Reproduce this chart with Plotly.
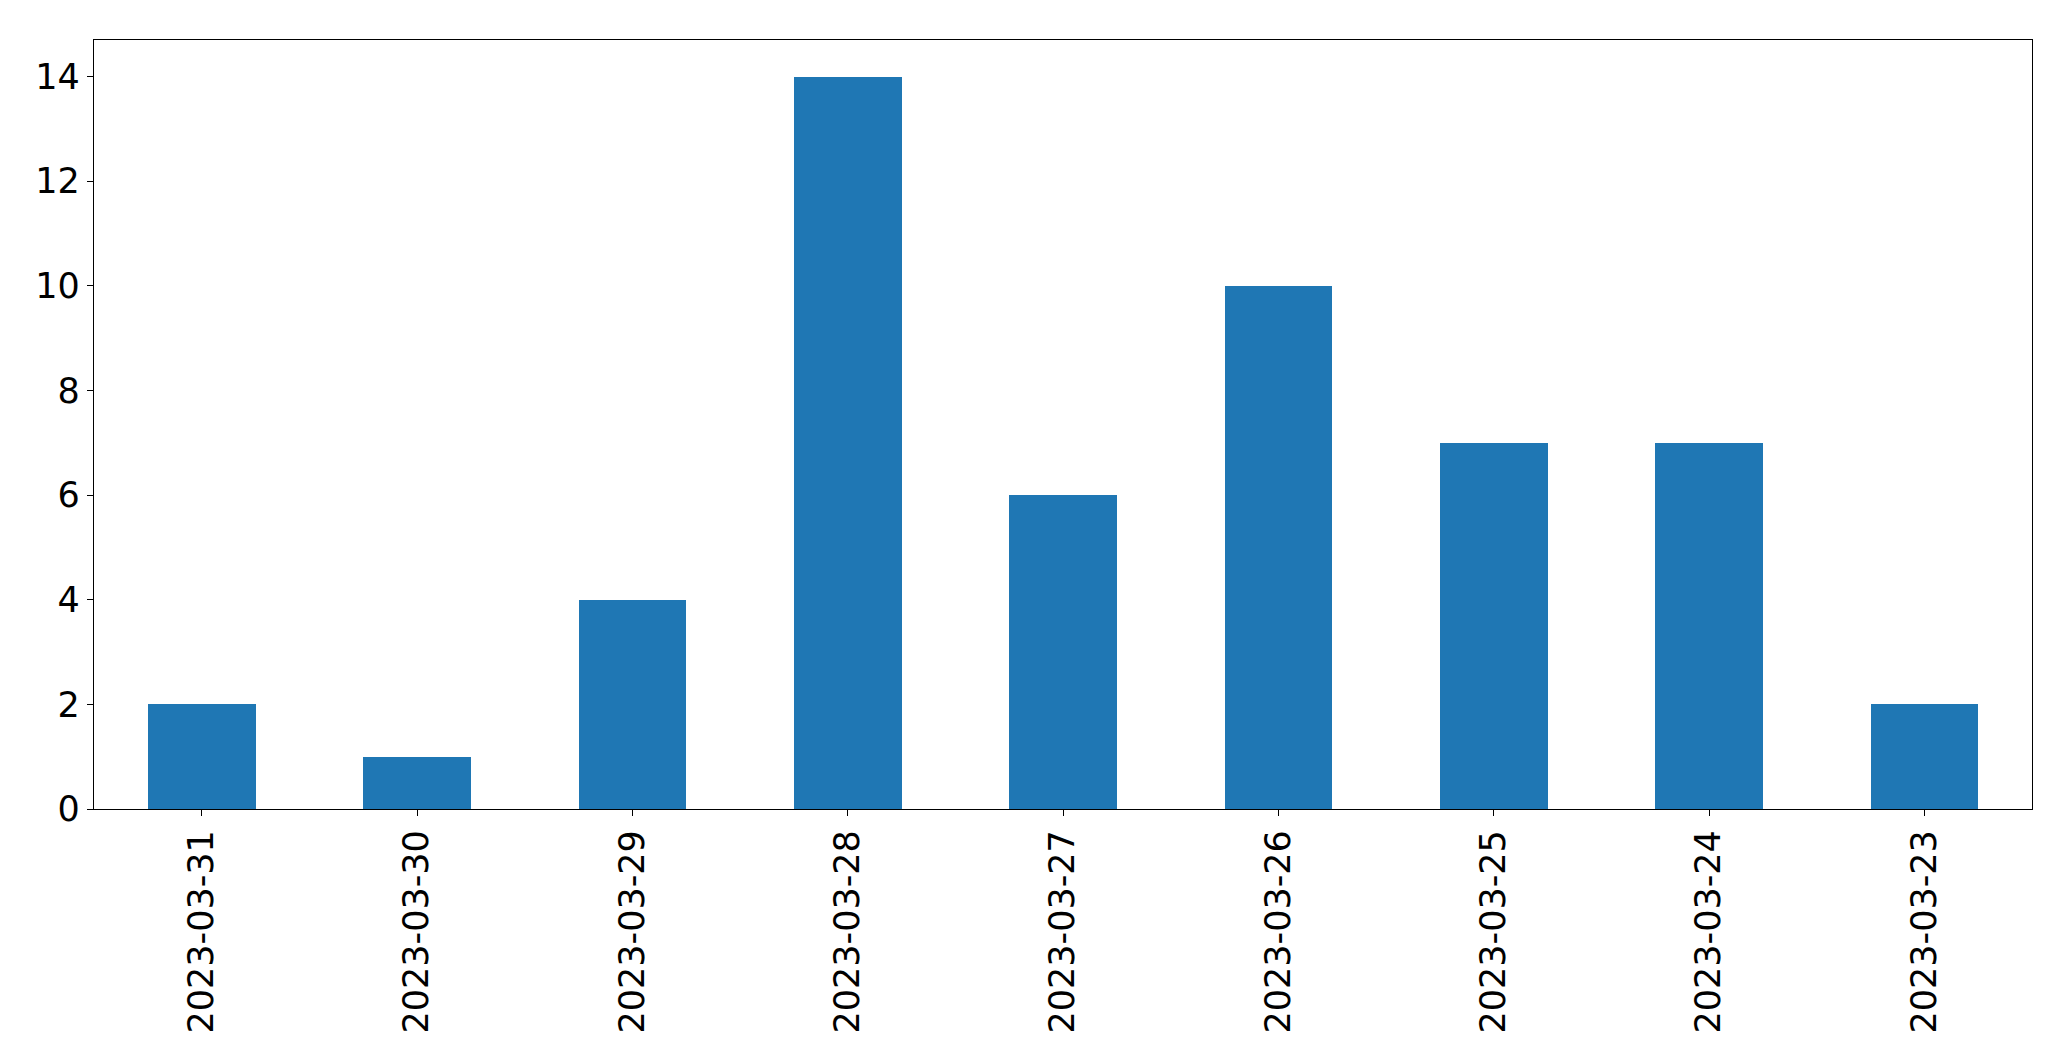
import plotly.graph_objects as go

dates = ["2023-03-31", "2023-03-30", "2023-03-29", "2023-03-28", "2023-03-27",
         "2023-03-26", "2023-03-25", "2023-03-24", "2023-03-23"]
counts = [2, 1, 4, 14, 6, 10, 7, 7, 2]
y_ticks = [0, 2, 4, 6, 8, 10, 12, 14]

fig = go.Figure(go.Bar(x=dates, y=counts, width=0.5, marker=dict(color="#1f77b4", line=dict(width=0))))

axis_common = dict(showline=True, mirror=True, linecolor="black", linewidth=1.3,
                   ticks="outside", ticklen=6, tickwidth=1.3, tickcolor="black",
                   showgrid=False, zeroline=False,
                   tickfont=dict(family="DejaVu Sans", size=35, color="black"))

# page body has an 8px default margin, so the figure is sized to fit the window
fig.update_layout(
    width=2063, height=1053,
    margin=dict(l=86, r=39, t=32, b=252),
    paper_bgcolor="white", plot_bgcolor="white",
    showlegend=False,
    bargap=0,
    xaxis=dict(type="category", range=[-0.5, 8.5], tickangle=-90, **axis_common),
    yaxis=dict(range=[0, 14.7], tickvals=y_ticks, ticktext=[str(v) for v in y_ticks], **axis_common),
)

fig.write_html("out.html")
